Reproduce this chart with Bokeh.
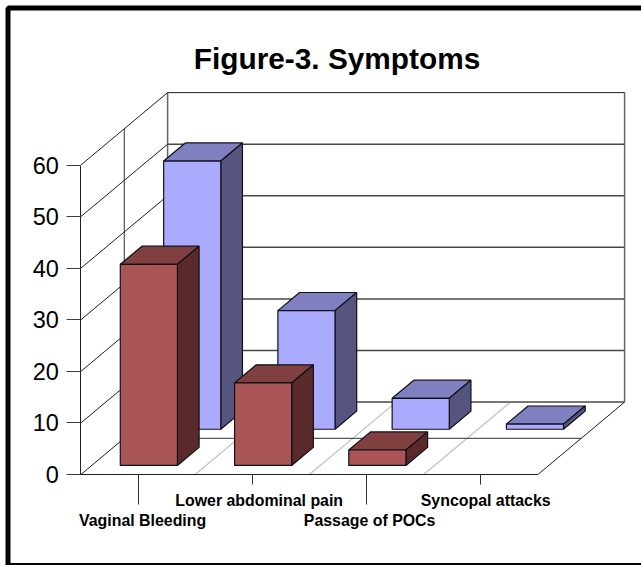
from bokeh.plotting import figure
from bokeh.models import Range1d, LinearAxis, FixedTicker, BoxAnnotation, Label, ColumnDataSource
from bokeh.core.properties import value
from bokeh.embed import file_html
from bokeh.resources import INLINE

categories = ["Vaginal Bleeding", "Lower abdominal pain", "Passage of POCs", "Syncopal attacks"]
blue_values = [52, 23, 6, 1]
red_values = [39, 16, 3, 0]
y_ticks = [0, 10, 20, 30, 40, 50, 60]
title_text = "Figure-3. Symptoms"

W, H = 641, 565
X0, SLOT = 80.4, 114.25    # px of slot 0, px per category slot
Y0, UNIT = 474, 5.158      # px of value 0, px per value unit
DEPTH_X = 86.7 / SLOT      # depth vector, data units
DEPTH_Y = 72.4 / UNIT
VMAX = 60

FONT = "Liberation Sans"

p = figure(width=W, height=H, output_backend="svg", toolbar_location=None,
           x_range=Range1d(-X0 / SLOT, (W - X0) / SLOT),
           y_range=Range1d(-(H - Y0) / UNIT, Y0 / UNIT),
           min_border=0, x_axis_location=None, y_axis_location=None)
p.outline_line_color = None
p.xgrid.visible = False
p.ygrid.visible = False


def pr(x, v, d):
    return x + DEPTH_X * d, v + DEPTH_Y * d


def seg(a, b, color, width=1.0):
    (xa, ya), (xb, yb) = a, b
    p.line([xa, xb], [ya, yb], line_color=color, line_width=width)


n = len(categories)
# floor grid, light diagonals
for i in range(1, n):
    seg(pr(i, 0, 0), pr(i, 0, 1), "#c0c0c0", 1.2)
seg(pr(0, 0, 0.5), pr(n, 0, 0.5), "#303030")
seg(pr(n, 0, 0), pr(n, 0, 1), "#202020")

# back wall
for t in y_ticks:
    seg(pr(0, t, 1), pr(n, t, 1), "#202020" if t == VMAX else "#484848", 1.5 if t != VMAX else 1.0)
seg(pr(0, 0, 1), pr(0, VMAX, 1), "#666666", 1.5)
seg(pr(n, 0, 1), pr(n, VMAX, 1), "#666666", 1.5)

# left wall
for t in y_ticks:
    seg(pr(0, t, 0), pr(0, t, 1), "#202020")
seg(pr(0, 0, 0.5), pr(0, VMAX, 0.5), "#303030")


def bars(vals, d0, d1, front, top, side):
    for i, v in enumerate(vals):
        if v <= 0:
            continue
        l, r = i + 0.25, i + 0.75
        faces = [
            ([pr(l, v, d0), pr(r, v, d0), pr(r, v, d1), pr(l, v, d1)], top),
            ([pr(r, 0, d0), pr(r, 0, d1), pr(r, v, d1), pr(r, v, d0)], side),
            ([pr(l, 0, d0), pr(r, 0, d0), pr(r, v, d0), pr(l, v, d0)], front),
        ]
        for pts, c in faces:
            p.patch([q[0] for q in pts], [q[1] for q in pts], fill_color=c,
                    line_color="#101018", line_width=1.2)


bars(blue_values, 0.625, 0.875, "#aaaaff", "#8080c0", "#555580")
bars(red_values, 0.125, 0.375, "#aa5555", "#804040", "#5a2a2a")

# value axis
ya = LinearAxis(fixed_location=0, ticker=FixedTicker(ticks=y_ticks), bounds=(0, VMAX),
                major_tick_out=14, major_tick_in=0, minor_tick_out=0, minor_tick_in=0,
                major_label_standoff=8, major_label_text_font=FONT,
                major_label_text_font_size="23.5px", major_label_text_color="black",
                axis_line_color="#202020", major_tick_line_color="#404040")
p.add_layout(ya, "left")

# category axes: two rows of ticks at the same line
for ticks, out in (([0.5, 2.5], 30), ([1.5, 3.5], 10)):
    xa = LinearAxis(fixed_location=0, ticker=FixedTicker(ticks=ticks), bounds=(0, n),
                    major_tick_out=out, major_tick_in=0, minor_tick_out=0, minor_tick_in=0,
                    major_label_text_font_size="0px", major_label_text_color=None,
                    axis_line_color="#202020", major_tick_line_color="#303030")
    p.add_layout(xa, "below")

# staggered category labels
label_src = ColumnDataSource(dict(
    x=[i + 0.5 for i in range(n)],
    y=[0] * n,
    text=categories,
    xo=[4.6, 6.9, 3.1, 4.9],
    yo=[45.5, 26, 45.5, 26],
))
p.text("x", "y", "text", source=label_src, x_offset="xo", y_offset="yo",
       text_align="center", text_baseline="middle", text_font=value(FONT),
       text_font_style="bold", text_font_size="15.9px", text_color="black")

# chart title
title = Label(x=336.5, y=57.5, x_units="canvas", y_units="canvas", text=title_text,
              text_align="center", text_baseline="middle", text_font=FONT,
              text_font_size="29.8px", text_font_style="bold", text_color="black")
p.add_layout(title)

# picture frame
frame = BoxAnnotation(left=7.5, right=W + 40, top=7.5, bottom=565,
                      left_units="canvas", right_units="canvas",
                      top_units="canvas", bottom_units="canvas",
                      fill_color=None, line_color="black", line_alpha=1.0, line_width=5)
p.add_layout(frame)

open("out.html", "w").write(file_html(p, INLINE))
